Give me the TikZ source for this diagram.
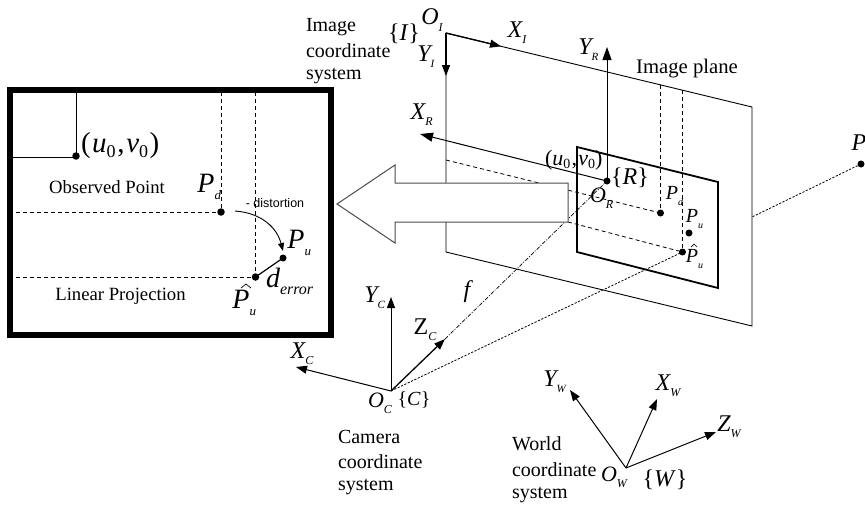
\documentclass[tikz,border=0pt]{standalone}
\usepackage{fontspec}
\setmainfont{Liberation Serif}
\newfontfamily\armfont{Liberation Sans}
\usetikzlibrary{arrows.meta}
\newcommand\fs[1]{\fontsize{#1}{#1}\selectfont}
% letter with subscript; the node is centred on the letter
\newcommand\sy[5][0em]{{\fs{#2}\itshape #4\rlap{\kern#1\raisebox{-.26em}{\fs{#3}\itshape #5}}}}
\newcommand\uv[3]{{\fs{#1}(\kern#3\textit{u}\raisebox{-.15em}{\fs{#2}0}\kern.06em,\kern.06em\textit{v}\raisebox{-.15em}{\fs{#2}0}\kern#3)}}
\tikzset{
  lab/.style={inner sep=0pt,outer sep=0pt,anchor=center},
  txt/.style={inner sep=0pt,outer sep=0pt,anchor=west,font=\fs{20}},
  dotb/.style={circle,fill=black,inner sep=0pt,minimum size=7.5pt},
  dots/.style={circle,fill=black,inner sep=0pt,minimum size=7pt},
  thin line/.style={line width=0.9pt},
  axis/.style={line width=1pt,-{Triangle[length=11pt,width=8pt]}},
  axisb/.style={line width=1pt,-{Triangle[length=13pt,width=9pt]}},
  dash line/.style={line width=0.8pt,dash pattern=on 4pt off 3pt},
  dotted ray/.style={line width=0.8pt,dash pattern=on 2.2pt off 1.5pt},
  focal/.style={line width=0.7pt,dash pattern=on 4pt off 1.5pt on 1pt off 1.5pt},
  hatmark/.style={line width=0.7pt},
}
\begin{document}
\begin{tikzpicture}[x=1pt,y=-1pt]
\useasboundingbox (0,0) rectangle (865,504);
% ---------- anchors
\coordinate (OI) at (446,33);
\coordinate (PTR) at (752,107);
\coordinate (PBR) at (752,326);
\coordinate (PBL) at (446,252);
\coordinate (XIt) at (501,46.3);
\coordinate (YIt) at (446,76);
\coordinate (RA) at (577,147);
\coordinate (RB) at (718,182);
\coordinate (RC) at (718,288);
\coordinate (RD) at (577,252);
\coordinate (YRt) at (607,47);
\coordinate (XRt) at (420,134);
\coordinate (OC) at (391,391);
\coordinate (YCt) at (391,297);
\coordinate (XCt) at (296,367);
\coordinate (ZCt) at (445,339);
\coordinate (OW) at (626,468);
\coordinate (YWt) at (570,390);
\coordinate (XWt) at (657,399);
\coordinate (ZWt) at (716,432);
\coordinate (dh1) at (446,160);
\coordinate (dh2) at (446,190);
\coordinate (dv1) at (660.5,85);
\coordinate (dv2) at (682.5,90);
\coordinate (rayexit) at (752,217);
% ---------- dots on the image rectangle
\node[dots] (R0) at (607,181) {};
\node[dots] (Rd) at (660.5,213) {};
\node[dots] (Ru) at (689,233) {};
\node[dots] (Rh) at (682.5,252) {};
\node[dots] (PW) at (861,164) {};
% ---------- image plane
\draw[thin line] (OI) -- (PTR) -- (PBR) -- (PBL) -- cycle;
% ---------- rays and dashes (behind the big arrow)
\draw[dash line] (dh1) -- (Rd.center);
\draw[dash line] (dh2) -- (Rh.center);
\draw[dash line] (dv1) -- (Rd.center);
\draw[dash line] (dv2) -- (Rh.center);
\draw[dotted ray] (OC) -- (Rh.center);
\draw[dotted ray] (PW.center) -- (rayexit);
\draw[focal] (ZCt) -- (R0.center);
% ---------- big arrow
\draw[line width=1pt,draw=black!70,fill=white] (568,183) -- (395,183) -- (395,165) -- (337,204) -- (395,243) -- (395,222) -- (568,222) -- cycle;
% ---------- image rectangle
\draw[line width=1.8pt] (RA) -- (RB) -- (RC) -- (RD) -- cycle;
% ---------- axes
\draw[axis,line width=1.3pt] (OI) -- (XIt);
\draw[axis,line width=1.3pt] (OI) -- (YIt);
\draw[axisb] (R0.center) -- (YRt);
\draw[axisb] (R0.center) -- (XRt);
\draw[axis] (OC) -- (YCt);
\draw[axis] (OC) -- (XCt);
\draw[axis,line width=1.3pt] (OC) -- (ZCt);
\draw[axis] (OW) -- (YWt);
\draw[axis] (OW) -- (XWt);
\draw[axis] (OW) -- (ZWt);
% ---------- left inset
\node[dotb] (L0) at (76,156) {};
\node[dotb] (Ld) at (221,212) {};
\node[dots] (Lu) at (283,258) {};
\node[dotb] (Lh) at (255.5,277) {};
\coordinate (Lt0) at (76,90);
\coordinate (Ll0) at (10,157);
\coordinate (Ltd) at (221,92);
\coordinate (Lth) at (255.5,92);
\coordinate (Lld) at (16,212);
\coordinate (Llh) at (16,277);
\coordinate (Cs) at (235,211);
\coordinate (Ce) at (283,251);
\draw[line width=.9pt] (Lt0) -- (L0.center);
\draw[line width=.9pt] (Ll0) -- (76,157);
\draw[dash line] (Ltd) -- (Ld.center);
\draw[dash line] (Lth) -- (Lh.center);
\draw[dash line] (Lld) -- (Ld.center);
\draw[dash line] (Llh) -- (Lh.center);
\draw[line width=1.2pt] (Lh.center) -- (Lu.center);
\draw[line width=0.9pt,-{Triangle[length=8pt,width=6pt]}] (Cs) .. controls (262,213) and (277,228) .. (Ce);
\draw[line width=5.5pt] (10,90) rectangle (331,335);
% ---------- inset labels
\node[lab,anchor=west] (l0) at (81,146) {\uv{29}{18}{.05em}};
\node[lab,font=\fs{18.7}] (lo) at (107,187) {Observed Point};
\node[lab,font=\fs{18.7}] (ll) at (120.5,296) {Linear Projection};
\node[lab] (lPd) at (206,187) {\sy{28}{13}{P}{d}};
\node[lab] (lPu) at (296,243) {\sy{28}{13}{P}{u}};
\node[lab] (lPh) at (241,303) {\sy{28}{13}{P}{u}};
\draw[hatmark] (241,288) -- (246,284) -- (251,288);
\node[lab] (lde) at (273,281) {\sy{28}{16}{d}{error}};
\node[lab,font=\armfont\fs{12.5}] (ldist) at (275,203) {- distortion};
% ---------- plane labels
\node[lab] (lOI) at (430,20) {\sy{24}{12}{O}{I}};
\node[lab,font=\fs{24}] (lI) at (404,34) {\{\textit{I}\}};
\node[lab] (lXI) at (515,33) {\sy{24}{12}{X}{I}};
\node[lab] (lYI) at (424,57) {\sy{24}{11}{Y}{I}};
\node[lab] (lYR) at (585,50) {\sy{24}{11}{Y}{R}};
\node[lab] (lXR) at (418,115) {\sy{24}{12}{X}{R}};
\node[txt] (t1) at (306,27) {Image};
\node[txt] (t2) at (306,51) {coordinate};
\node[txt] (t3) at (306,76) {system};
\node[lab,font=\fs{20.7}] (tp) at (687,69) {Image plane};
\node[lab,anchor=west] (lR0) at (545,160) {\uv{22}{14}{0pt}};
\node[lab,font=\fs{24}] (lR) at (630,178) {\{\textit{R}\}};
\node[lab] (lOR) at (598,198) {\sy{22}{12}{O}{R}};
\node[lab] (lRd) at (672,196) {\sy{20}{10}{P}{d}};
\node[lab] (lRu) at (692,219) {\sy{20}{10}{P}{u}};
\node[lab] (lRh) at (692,259) {\sy{20}{10}{P}{u}};
\draw[hatmark] (691,247) -- (694,244) -- (697,247);
\node[lab] (lPW) at (859,146) {\sy{24}{10}{P}{W}};
% ---------- camera
\node[lab] (lYC) at (371,298) {\sy{24}{11}{Y}{C}};
\node[lab] (lXC) at (298,354) {\sy{24}{12}{X}{C}};
\node[lab] (lZC) at (421,330) {{\fs{24}Z\rlap{\raisebox{-.26em}{\fs{12}\itshape C}}}};
\node[lab,font=\fs{24}\itshape] (lf) at (467,292) {f};
\node[lab] (lOC) at (376,403) {\sy{22}{12}{O}{C}};
\node[lab,font=\fs{20}] (lCC) at (414,400) {\{\textit{C}\}};
\node[txt] (c1) at (338,437) {Camera};
\node[txt] (c2) at (338,462) {coordinate};
\node[txt] (c3) at (338,487) {system};
% ---------- world
\node[lab] (lYW) at (550,382) {\sy{24}{11}{Y}{W}};
\node[lab] (lXW) at (663,386) {\sy{24}{12}{X}{W}};
\node[lab] (lZW) at (724,427) {\sy{24}{12}{Z}{W}};
\node[lab] (lOW) at (609,477) {\sy{22}{12}{O}{W}};
\node[lab,font=\fs{24}] (lWW) at (665,480) {\{\textit{W}\}};
\node[txt] (w1) at (512,444) {World};
\node[txt] (w2) at (512,470) {coordinate};
\node[txt] (w3) at (512,495) {system};
\end{tikzpicture}
\end{document}
